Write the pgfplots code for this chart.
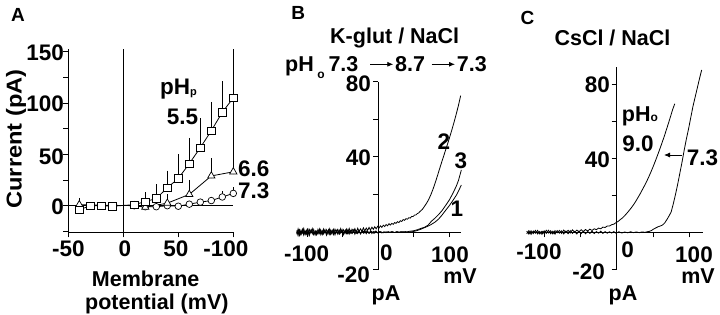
\documentclass[border=0pt]{standalone}
\usepackage{pgfplots}
\pgfplotsset{compat=1.18}
\usepackage{fontspec}
\setmainfont{Liberation Sans}
\usepackage{graphicx}
\usetikzlibrary{arrows.meta}

\tikzset{
 num/.style={font=\fontsize{22.5}{24}\selectfont\bfseries, inner sep=0pt},
 txt/.style={font=\fontsize{21.5}{24}\selectfont\bfseries, inner sep=0pt},
 pan/.style={font=\fontsize{19}{21}\selectfont\bfseries, inner sep=0pt},
}

\pgfplotstableread{
x y e
-40 -4 0
-30 0 0
-20 0 0
-10 -0.5 0
10 1 0
20 4 6
30 7 11
40 17.5 13.5
50 26.5 20.5
60 41 22
70 56.5 25.5
80 73 25
90 91 27
100 105 26
}\sqdata

\pgfplotstableread{
x y e
-40 1 3.5
10 0 0
20 -1.5 0
40 2.5 5.5
60 11 11
80 29 14
100 33 23
}\tridata

\pgfplotstableread{
x y e
10 0 0
20 -1 0
30 -1 0
40 0 0
50 -0.5 0
60 1.5 0
70 3.5 0
80 5 0
90 8.5 2.5
100 12 3
}\cirdata

\pgfplotsset{
  errs/.style={black, only marks, mark=none,
    error bars/.cd, y dir=plus, y explicit,
    error bar style={draw=black, line width=0.7pt},
    error mark options={draw=black, line width=0.7pt, mark size=3.2pt}},
}

\begin{document}
\begin{tikzpicture}
\useasboundingbox (0pt,0pt) rectangle (720pt,314pt);

% ---------------- Panel A ----------------
\begin{axis}[at={(68.3pt,81.6pt)}, anchor=south west, scale only axis,
  width=165pt, height=183.8pt,
  xmin=-50, xmax=100, ymin=-26, ymax=153, enlargelimits=false,
  axis x line*=bottom, axis y line*=left,
  axis line style={-, line width=0.7pt},
  xtick={-50,0,50,100}, ytick={-25,0,25,50,75,100,125,150},
  xticklabels={}, yticklabels={},
  tick align=outside, major tick length=5pt,
  tick style={black, line width=0.7pt},
  clip=false]
\addplot[black, line width=0.7pt] coordinates {(-50,0) (100,0)};
\addplot[black, line width=0.7pt] coordinates {(0,-26) (0,153)};
\addplot[black, line width=0.7pt] coordinates {(100,33) (100,153)};
% error bars first
\addplot[errs] table[x=x, y=y, y error=e] {\cirdata};
\addplot[errs] table[x=x, y=y, y error=e] {\tridata};
\addplot[errs] table[x=x, y=y, y error=e] {\sqdata};
% lines and open marks on top
\addplot[black, line width=0.8pt, mark=*, mark size=3.3pt,
  mark options={fill=white, draw=black, solid, line width=0.7pt}]
  table[x=x, y=y] {\cirdata};
\addplot[black, line width=0.8pt, mark=triangle*, mark size=4.2pt,
  mark options={fill=white, draw=black, solid, line width=0.7pt}]
  table[x=x, y=y] {\tridata};
\addplot[black, line width=0.8pt, mark=square*, mark size=3.7pt,
  mark options={fill=white, draw=black, solid, line width=0.7pt}]
  table[x=x, y=y] {\sqdata};
\end{axis}

% ---------------- Panel B ----------------
\begin{axis}[at={(296.65pt,44.4pt)}, anchor=south west, scale only axis,
  width=164.7pt, height=188pt,
  xmin=-115, xmax=117, ymin=-20, ymax=80, enlargelimits=false,
  axis lines=middle, axis line style={-, line width=0.7pt},
  xtick={-100,-50,50,100}, ytick={-20,20,40,60,80},
  xticklabels={}, yticklabels={},
  tick align=outside, major tick length=5pt,
  tick style={black, line width=0.7pt},
  clip=false]
% trace 2 (pHo 8.7)
\addplot[black, line width=0.8pt] coordinates {
(-115,-1.2) (-113,1.6) (-111,-1.8) (-109,0.9) (-107,-0.6) (-105,1.9) (-103,-1.4) (-101,0.7) (-99,-1.7) (-97,1.3)
(-95,-0.4) (-93,1.8) (-91,-1.2) (-89,0.5) (-87,-1.5) (-85,1.4) (-83,-0.8) (-81,1.1) (-79,-1.3) (-77,1.6)
(-75,-0.5) (-73,1.2) (-71,-1.1) (-69,1.7) (-67,-0.7) (-65,1.0) (-63,-1.3) (-61,1.5) (-59,-0.3) (-57,1.4)
(-55,-0.9) (-53,1.8) (-51,-0.4) (-49,1.2) (-47,-0.8) (-45,1.6) (-43,-0.2) (-41,1.9) (-39,-0.5) (-37,1.5)
(-35,0.1) (-33,1.8) (-31,-0.2) (-29,2.0) (-27,0.3) (-25,1.7) (-23,0.4) (-21,2.2) (-19,0.6) (-17,2.1)
(-15,0.9) (-13,2.4) (-11,1.0) (-9,2.6) (-7,1.4) (-5,2.8) (-3,1.7) (-1,3.0) (1,2.1) (3,3.3)
(5,2.5) (7,3.6) (9,2.9) (11,4.0) (13,3.3) (15,4.4) (17,3.7) (19,4.6) (21,4.1) (23,5.0)
(25,4.6) (27,5.5) (29,5.0) (31,6.0) (33,5.6) (35,6.6) (37,6.2) (39,7.1) (41,6.8) (43,7.6)
(45,7.4) (47,8.3) (49,8.2) (51,9.0) (53,9.1) (55,9.8) (57,10.2) (59,11.0) (62,12.0) (65,13.6)
(68,15.3) (71,17.3) (74,19.8) (77,22.7) (80,26.0) (83,29.5) (86,33.2) (89,36.8) (92,40.3) (95,43.8)
(98,47.3) (101,51.0) (104,54.8) (107,58.8) (110,63.0) (113,67.5) (116,72.5)};
% trace 3 (back to 7.3)
\addplot[black, line width=0.8pt] coordinates {
(-115,0.8) (-113,-1.9) (-111,1.2) (-109,-1.0) (-107,1.5) (-105,-1.7) (-103,0.6) (-101,-1.2) (-99,1.4) (-97,-1.8)
(-95,0.9) (-93,-0.9) (-91,1.3) (-89,-1.6) (-87,0.4) (-85,-1.1) (-83,1.6) (-81,-1.4) (-79,0.8) (-77,-1.0)
(-75,1.2) (-73,-1.7) (-71,0.5) (-69,-1.3) (-67,1.1) (-65,-0.8) (-63,1.4) (-61,-1.5) (-59,0.7) (-57,-1.2)
(-55,1.0) (-53,-0.6) (-51,1.3) (-49,-1.4) (-47,0.6) (-45,-0.9) (-43,1.2) (-41,-1.1) (-39,0.8) (-37,-0.7)
(-35,1.1) (-33,-1.2) (-31,0.6) (-29,-0.8) (-27,0.9) (-25,-1.0) (-23,0.5) (-21,-0.6) (-19,0.8) (-17,-0.9)
(-15,0.4) (-13,-0.7) (-11,0.6) (-9,-0.8) (-7,0.3) (-5,-0.6) (-3,0.4) (-1,-0.5) (2,0.2) (5,-0.5)
(8,0.1) (11,-0.4) (14,0.2) (17,-0.3) (20,0.1) (23,-0.3) (26,0.2) (29,-0.2) (32,0.2) (35,0.0)
(38,0.2) (41,0.1) (44,0.4) (47,0.5) (50,0.7) (55,1.2) (60,1.9) (65,2.5) (70,3.6) (75,5.8)
(80,7.4) (85,9.3) (90,11.5) (95,14.2) (100,17.0) (105,20.5) (110,24.5) (113,27.5) (117,33.0)};
% trace 1 (pHo 7.3)
\addplot[black, line width=0.8pt] coordinates {
(-115,-0.5) (-112,1.3) (-109,-1.6) (-106,0.8) (-103,-1.0) (-100,1.6) (-97,-0.7) (-94,1.1) (-91,-1.5) (-88,0.6)
(-85,-0.9) (-82,1.4) (-79,-1.2) (-76,0.9) (-73,-0.6) (-70,1.3) (-67,-1.4) (-64,0.7) (-61,-0.8) (-58,1.2)
(-55,-1.1) (-52,0.8) (-49,-0.6) (-46,1.1) (-43,-1.0) (-40,0.6) (-37,-0.8) (-34,0.9) (-31,-0.7) (-28,0.6)
(-25,-0.9) (-22,0.7) (-19,-0.5) (-16,0.6) (-13,-0.7) (-10,0.4) (-7,-0.6) (-4,0.5) (-1,-0.4) (3,0.2)
(7,-0.4) (11,0.1) (15,-0.3) (19,0.2) (23,-0.3) (27,0.1) (31,-0.2) (35,0.1) (39,-0.2) (43,0.0)
(47,0.1) (50,0.3) (55,0.8) (60,1.5) (65,2.3) (70,3.1) (75,4.1) (80,5.3) (85,6.9) (90,9.1)
(95,11.6) (100,14.0) (105,16.7) (110,19.6) (114,22.6) (117,25.0)};
\end{axis}

% ---------------- Panel C ----------------
\begin{axis}[at={(526.7pt,44.7pt)}, anchor=south west, scale only axis,
  width=176.4pt, height=202.6pt,
  xmin=-124, xmax=119, ymin=-20, ymax=89.5, enlargelimits=false,
  axis lines=middle, axis line style={-, line width=0.7pt},
  xtick={-100,-50,50,100}, ytick={-20,20,40,60,80},
  xticklabels={}, yticklabels={},
  tick align=outside, major tick length=5pt,
  tick style={black, line width=0.7pt},
  clip=false]
% pHo 9.0
\addplot[black, line width=0.8pt] coordinates {
(-124,-0.8) (-121,0.9) (-118,-1.1) (-115,0.7) (-112,-0.5) (-109,1.0) (-106,-0.9) (-103,0.6) (-100,-0.7) (-97,1.1)
(-94,-0.4) (-91,0.8) (-88,-0.9) (-85,0.9) (-82,-0.3) (-79,1.0) (-76,-0.6) (-73,1.2) (-70,-0.2) (-67,1.1)
(-64,-0.4) (-61,1.3) (-58,0.0) (-55,1.2) (-52,0.2) (-49,1.4) (-46,0.4) (-43,1.5) (-40,0.7) (-37,1.7)
(-34,1.0) (-31,1.9) (-28,1.4) (-25,2.3) (-22,1.9) (-19,2.8) (-16,2.6) (-13,3.4) (-10,3.4) (-7,4.1)
(-4,4.4) (-1,5.2) (2,5.9) (5,6.9) (8,7.8) (11,9.0) (14,10.3) (17,11.7) (20,13.2) (23,14.8)
(26,16.6) (29,18.6) (32,20.6) (35,22.8) (38,25.0) (41,27.3) (44,29.8) (47,32.5) (50,35.3) (53,38.3)
(56,41.4) (59,44.6) (62,47.9) (65,51.3) (68,54.9) (71,58.6) (74,62.4) (77,66.3) (80,69.5)};
% pHo 7.3
\addplot[black, line width=0.8pt] coordinates {
(-124,0.6) (-121,-1.0) (-118,0.8) (-115,-0.7) (-112,1.0) (-109,-0.9) (-106,0.5) (-103,-1.1) (-100,0.8) (-97,-0.6)
(-94,1.1) (-91,-0.8) (-88,0.6) (-85,-1.0) (-82,0.9) (-79,-0.5) (-76,0.8) (-73,-0.9) (-70,0.7) (-67,-0.8)
(-64,0.9) (-61,-0.6) (-58,0.5) (-55,-0.9) (-52,0.7) (-49,-0.7) (-46,0.6) (-43,-0.8) (-40,0.5) (-37,-0.6)
(-34,0.6) (-31,-0.7) (-28,0.4) (-25,-0.5) (-22,0.6) (-19,-0.6) (-16,0.4) (-13,-0.5) (-10,0.3) (-7,-0.4)
(-4,0.4) (-1,-0.5) (3,0.3) (7,-0.4) (11,0.2) (15,-0.3) (19,0.3) (23,-0.2) (27,0.2) (31,-0.2)
(35,0.2) (39,0.0) (42,0.3) (45,0.5) (48,1.0) (51,1.8) (54,2.4) (57,3.0) (60,3.4) (63,3.9)
(66,5.0) (69,6.8) (72,8.8) (75,11.0) (78,15.5) (81,20.5) (84,26.0) (87,32.0) (90,38.0) (93,44.5)
(96,50.5) (99,56.0) (102,62.0) (105,68.0) (108,73.0) (111,78.0) (114,83.0) (117,87.7)};
\end{axis}

% ---------------- Text, Panel A ----------------
\node[pan] at (18pt,299pt) {A};
\node[num, anchor=east] at (64pt,261pt) {150};
\node[num, anchor=east] at (64pt,210pt) {100};
\node[num, anchor=east] at (64pt,157pt) {50};
\node[num, anchor=east] at (64pt,107pt) {0};
\node[num] at (68.3pt,65.5pt) {-50};
\node[num] at (125pt,65.5pt) {0};
\node[num] at (176pt,65.5pt) {50};
\node[num] at (226pt,65.5pt) {-100};
\node[txt, anchor=base west] at (91.7pt,27.3pt) {Membrane};
\node[txt, anchor=base west] at (85pt,4.5pt) {potential (mV)};
\node[txt, anchor=base, rotate=90] at (21.5pt,175pt) {\scalebox{1.1}[1]{Current (pA)}};
\node[num, anchor=base west] at (160pt,219pt) {pH\raisebox{-1pt}{\fontsize{11}{11}\selectfont p}};
\node[num] at (182.5pt,197.3pt) {5.5};
\node[num, anchor=west] at (238pt,145pt) {6.6};
\node[num, anchor=west] at (238pt,123pt) {7.3};

% ---------------- Text, Panel B ----------------
\node[pan] at (298.3pt,300.7pt) {B};
\node[txt, anchor=base] at (394.7pt,270.7pt) {K-glut / NaCl};
\node[txt, anchor=base west] at (285pt,242.3pt) {pH};
\node[inner sep=0pt, font=\fontsize{12}{12}\selectfont\bfseries] at (321pt,239pt) {o};
\node[txt, anchor=base west] at (328.3pt,242.3pt) {7.3};
\draw[-{Latex[length=6pt,width=5pt]}, line width=0.8pt] (370pt,249.7pt) -- (393.3pt,249.7pt);
\node[txt, anchor=base west] at (395pt,242.3pt) {8.7};
\draw[-{Latex[length=6pt,width=5pt]}, line width=0.8pt] (431.7pt,249.7pt) -- (455pt,249.7pt);
\node[txt, anchor=base west] at (456.7pt,242.3pt) {7.3};
\node[num, anchor=east] at (371pt,230pt) {80};
\node[num, anchor=east] at (371pt,156pt) {40};
\node[num, anchor=east] at (370pt,39pt) {-20};
\node[num] at (306.7pt,60pt) {-100};
\node[num] at (386.3pt,61pt) {0};
\node[num] at (450pt,59pt) {100};
\node[txt] at (460pt,38pt) {mV};
\node[txt, anchor=base] at (386pt,14pt) {pA};
\node[num] at (444pt,172.3pt) {2};
\node[num] at (461pt,153pt) {3};
\node[num] at (457pt,105pt) {1};

% ---------------- Text, Panel C ----------------
\node[pan] at (527.5pt,295.7pt) {C};
\node[txt, anchor=base] at (612.5pt,268pt) {CsCl / NaCl};
\node[num, anchor=east] at (610pt,229pt) {80};
\node[num, anchor=east] at (610pt,154.5pt) {40};
\node[num, anchor=east] at (605pt,42.3pt) {-20};
\node[num] at (539pt,62.3pt) {-100};
\node[num] at (627.5pt,64pt) {0};
\node[num] at (694pt,59pt) {100};
\node[txt] at (698pt,37.5pt) {mV};
\node[txt, anchor=base] at (623pt,14pt) {pA};
\node[txt, anchor=base west] at (621.7pt,192.3pt) {pH\fontsize{12}{12}\selectfont o};
\node[num] at (638pt,170pt) {9.0};
\node[num] at (702.5pt,156pt) {7.3};
\draw[-{Latex[length=6pt,width=5pt]}, line width=0.8pt] (681.7pt,159pt) -- (664pt,159pt);
\end{tikzpicture}
\end{document}
